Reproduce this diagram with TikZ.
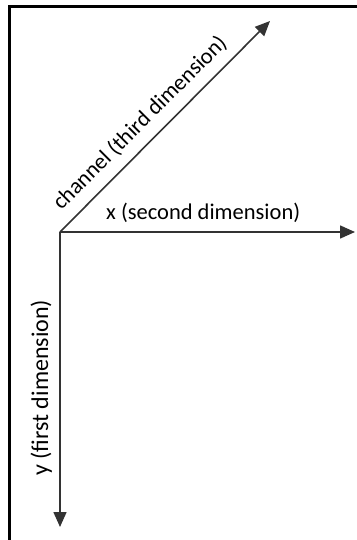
\documentclass[tikz,border=0pt]{standalone}
\usepackage{fontspec}
\setmainfont{Carlito}
\usetikzlibrary{arrows.meta}
\begin{document}
\begin{tikzpicture}[x=1pt,y=-1pt,
  axis/.style={draw=black!80,line width=1.6pt,-{Triangle[length=15pt,width=13pt]}},
  lbl/.style={inner sep=0pt,font=\fontsize{22.5}{27}\selectfont,text=black}]
\useasboundingbox (0,0) rectangle (356,540);
\draw[line width=3pt,black] (357,6.5) -- (9.5,6.5) -- (9.5,541);
\coordinate (o) at (60,232);
\coordinate (xe) at (355,232);
\coordinate (ye) at (60,527);
\coordinate (ce) at (270,21);
\draw[axis] (o) -- (xe);
\draw[axis] (o) -- (ye);
\draw[axis] (o) -- (ce);
\node[lbl,anchor=base west] (xl) at (106,219) {x (second dimension)};
\node[lbl,font=\fontsize{24}{29}\selectfont,anchor=base west,rotate=90] (yl) at (48,476) {y (first dimension)};
\node[lbl,anchor=center,rotate=45] (cl) at (140,123) {channel (third dimension)};
\end{tikzpicture}
\end{document}
